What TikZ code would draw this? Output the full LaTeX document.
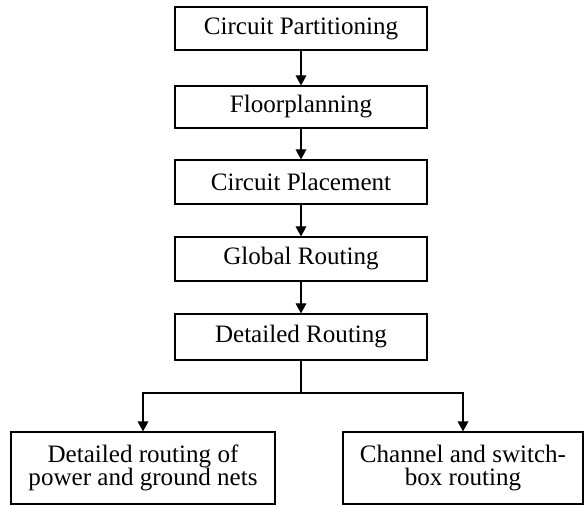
\documentclass[tikz,border=0pt]{standalone}
\usepackage{fontspec}
\setmainfont{Liberation Serif}
\usetikzlibrary{arrows.meta}
\tikzset{
  box/.style={draw, line width=0.9pt, inner sep=0pt, align=center,
    font=\fontsize{18.8pt}{17.25pt}\selectfont},
  arr/.style={line width=0.9pt, -{Triangle[width=8pt,length=7.5pt]}},
  link/.style={line width=0.9pt}
}
\begin{document}
\begin{tikzpicture}[x=0.75pt,y=-0.75pt]
  \useasboundingbox (0,0) rectangle (586,506);
  % main flow
  \node[box, minimum width=189pt, minimum height=32.25pt] (b1) at (301,28.5) {Circuit Partitioning};
  \node[box, minimum width=189pt, minimum height=31.5pt]  (b2) at (301,107)  {Floorplanning};
  \node[box, minimum width=189pt, minimum height=33pt]    (b3) at (301,182)  {Circuit Placement};
  \node[box, minimum width=189pt, minimum height=33pt]    (b4) at (301,259)  {Global Routing};
  \node[box, minimum width=189pt, minimum height=34.5pt]  (b5) at (301,337)  {Detailed Routing};
  % two detailed-routing branches
  \node[box, minimum width=198pt, minimum height=54pt] (b6) at (143,468) {Detailed routing of\\power and ground nets};
  \node[box, minimum width=180pt, minimum height=54pt] (b7) at (463,468) {Channel and switch-\\box routing};
  \coordinate (j) at (301,393);
  \draw[arr] (b1) -- (b2);
  \draw[arr] (b2) -- (b3);
  \draw[arr] (b3) -- (b4);
  \draw[arr] (b4) -- (b5);
  \draw[link] (b5) -- (j);
  \draw[arr] (j) -| (b6.north);
  \draw[arr] (j) -| (b7.north);
\end{tikzpicture}
\end{document}
